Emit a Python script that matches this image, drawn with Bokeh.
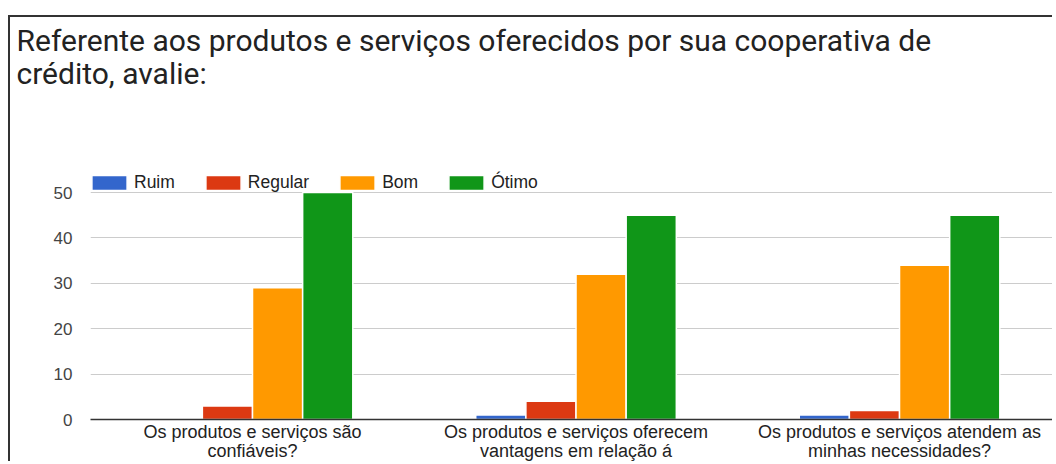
from bokeh.plotting import figure
from bokeh.models import ColumnDataSource, Legend, LegendItem, FixedTicker, Range1d
from bokeh.transform import dodge
from bokeh.embed import file_html
from bokeh.resources import INLINE

title_text = "Referente aos produtos e serviços oferecidos por sua cooperativa de\ncrédito, avalie:"
categories = [
    "Os produtos e serviços são\nconfiáveis?",
    "Os produtos e serviços oferecem\nvantagens em relação á",
    "Os produtos e serviços atendem as\nminhas necessidades?",
]
series = ["Ruim", "Regular", "Bom", "Ótimo"]
ruim = [0, 1, 1]
regular = [3, 4, 2]
bom = [29, 32, 34]
otimo = [50, 45, 45]
colors = ["#3366cc", "#dc3912", "#ff9900", "#109618"]
y_ticks = [0, 10, 20, 30, 40, 50]

# layout constants (pixels within the figure)
FRAME_TOP = 78
FRAME_BOTTOM = 403
Y50 = 176
y_end = 50 * (FRAME_BOTTOM - FRAME_TOP) / (FRAME_BOTTOM - Y50)

idx = list(range(len(categories)))
src = ColumnDataSource(dict(x=idx, s0=ruim, s1=regular, s2=bom, s3=otimo))

p = figure(width=1044, height=446, output_backend="svg", toolbar_location=None,
           x_range=Range1d(-0.5008, 2.479), y_range=Range1d(0, y_end),
           min_border_left=80, min_border_right=0, min_border_top=0, min_border_bottom=0,
           styles={"border-top": "2px solid #333", "border-left": "2px solid #333",
                   "margin-top": "15px", "margin-left": "8px"})

p.title.text = title_text
p.title.text_font = "Roboto"
p.title.text_font_size = "30px"
p.title.text_font_style = "normal"
p.title.text_color = "#222222"
p.title.text_line_height = 0.97
p.title.align = "left"
p.title.offset = -74
p.title.standoff = 6

offsets = [-0.2325, -0.0775, 0.0775, 0.2325]
bw = 0.155
items = []
for i, (name, col) in enumerate(zip(series, colors)):
    r = p.vbar(x=dodge("x", offsets[i], range=p.x_range), top="s%d" % i, width=bw, bottom=0,
               source=src, fill_color=col, line_color="white", line_width=1.5)
    items.append(LegendItem(label=name, renderers=[r]))

legend = Legend(items=items, orientation="horizontal", location=(-3, 226),
                glyph_width=44, glyph_height=19, label_standoff=3, spacing=26,
                padding=0, margin=0, border_line_color=None, background_fill_alpha=0,
                label_text_font="Liberation Sans", label_text_font_size="17.5px",
                label_text_color="#222222", label_height=17)
p.add_layout(legend, "center")

p.xaxis.ticker = FixedTicker(ticks=idx)
p.xaxis.major_label_overrides = {i: c for i, c in zip(idx, categories)}
p.xaxis.axis_line_color = "#333333"
p.xaxis.axis_line_width = 1.5
p.xaxis.major_tick_line_color = None
p.xaxis.minor_tick_line_color = None
p.xaxis.major_tick_out = 0
p.xaxis.major_tick_in = 0
p.xaxis.minor_tick_out = 0
p.xaxis.major_label_text_font = "Liberation Sans"
p.xaxis.major_label_text_font_size = "18px"
p.xaxis.major_label_text_color = "#222222"
p.xaxis.major_label_text_line_height = 0.97
p.xaxis.major_label_standoff = 2

p.yaxis.ticker = FixedTicker(ticks=y_ticks)
p.yaxis.axis_line_color = None
p.yaxis.major_tick_line_color = None
p.yaxis.minor_tick_line_color = None
p.yaxis.major_tick_out = 0
p.yaxis.major_tick_in = 0
p.yaxis.minor_tick_out = 0
p.yaxis.major_label_text_font = "Liberation Sans"
p.yaxis.major_label_text_font_size = "17px"
p.yaxis.major_label_text_color = "#444444"
p.yaxis.major_label_standoff = 18

p.xgrid.grid_line_color = None
p.ygrid.grid_line_color = "#cccccc"
p.outline_line_color = None

open("out.html", "w").write(file_html(p, INLINE))
